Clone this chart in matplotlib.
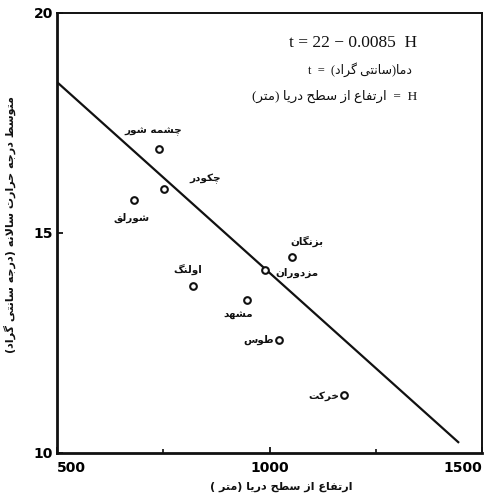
import matplotlib
matplotlib.use("Agg")
import matplotlib.pyplot as plt
from matplotlib.ticker import FixedLocator

# ---------------------------------------------------------------------------
# Data: mean annual temperature versus altitude for stations around Mashhad
# ---------------------------------------------------------------------------
stations = ["چشمه شور", "چکودر", "شورلق", "اولنگ", "مشهد",
            "مزدوران", "بزنگان", "طوس", "خرکت"]
altitude_m = [740, 751, 681, 819, 948, 989, 1054, 1022, 1176]
mean_temp_c = [16.9, 16.0, 15.75, 13.8, 13.48, 14.16, 14.45, 12.57, 11.32]

# regression line as drawn (end points)
fit_altitude_m = [500, 1446]
fit_temp_c = [18.43, 10.23]

x_ticks = [500, 1000, 1500]
x_minor_ticks = [750, 1250]
y_ticks = [10, 15, 20]

equation_text = "t = 22 \u2212 0.0085  H"
temp_def = "دما(سانتی گراد)"
height_def = "ارتفاع از سطح دریا (متر)"
x_title = "ارتفاع از سطح دریا (متر )"
y_title = "متوسط درجه حرارت سالانه (درجه سانتی گراد)"

# ---------------------------------------------------------------------------
# Minimal Arabic-script shaping (presentation forms) for matplotlib text
# forms: isolated, final, initial, medial
# ---------------------------------------------------------------------------
FORMS = {
    'ا': (0xFE8D, 0xFE8E, None, None),
    'آ': (0xFE81, 0xFE82, None, None),
    'ب': (0xFE8F, 0xFE90, 0xFE91, 0xFE92),
    'پ': (0xFB56, 0xFB57, 0xFB58, 0xFB59),
    'ت': (0xFE95, 0xFE96, 0xFE97, 0xFE98),
    'ث': (0xFE99, 0xFE9A, 0xFE9B, 0xFE9C),
    'ج': (0xFE9D, 0xFE9E, 0xFE9F, 0xFEA0),
    'چ': (0xFB7A, 0xFB7B, 0xFB7C, 0xFB7D),
    'ح': (0xFEA1, 0xFEA2, 0xFEA3, 0xFEA4),
    'خ': (0xFEA5, 0xFEA6, 0xFEA7, 0xFEA8),
    'د': (0xFEA9, 0xFEAA, None, None),
    'ذ': (0xFEAB, 0xFEAC, None, None),
    'ر': (0xFEAD, 0xFEAE, None, None),
    'ز': (0xFEAF, 0xFEB0, None, None),
    'ژ': (0xFB8A, 0xFB8B, None, None),
    'س': (0xFEB1, 0xFEB2, 0xFEB3, 0xFEB4),
    'ش': (0xFEB5, 0xFEB6, 0xFEB7, 0xFEB8),
    'ص': (0xFEB9, 0xFEBA, 0xFEBB, 0xFEBC),
    'ض': (0xFEBD, 0xFEBE, 0xFEBF, 0xFEC0),
    'ط': (0xFEC1, 0xFEC2, 0xFEC3, 0xFEC4),
    'ظ': (0xFEC5, 0xFEC6, 0xFEC7, 0xFEC8),
    'ع': (0xFEC9, 0xFECA, 0xFECB, 0xFECC),
    'غ': (0xFECD, 0xFECE, 0xFECF, 0xFED0),
    'ف': (0xFED1, 0xFED2, 0xFED3, 0xFED4),
    'ق': (0xFED5, 0xFED6, 0xFED7, 0xFED8),
    'ک': (0xFB8E, 0xFB8F, 0xFB90, 0xFB91),
    'گ': (0xFB92, 0xFB93, 0xFB94, 0xFB95),
    'ل': (0xFEDD, 0xFEDE, 0xFEDF, 0xFEE0),
    'م': (0xFEE1, 0xFEE2, 0xFEE3, 0xFEE4),
    'ن': (0xFEE5, 0xFEE6, 0xFEE7, 0xFEE8),
    'و': (0xFEED, 0xFEEE, None, None),
    'ه': (0xFEE9, 0xFEEA, 0xFEEB, 0xFEEC),
    'ی': (0xFBFC, 0xFBFD, 0xFBFE, 0xFBFF),
}
MIRROR = {'(': ')', ')': '(', '[': ']', ']': '['}


def _joins_next(c):
    return c in FORMS and FORMS[c][2] is not None


def fa(text):
    """Persian text in right-to-left visual order with joined letter forms."""
    chars = list(text)
    n = len(chars)
    res = []
    i = 0
    while i < n:
        c = chars[i]
        if c not in FORMS:
            res.append(MIRROR.get(c, c))
            i += 1
            continue
        prev = chars[i - 1] if i > 0 else None
        connect_prev = prev is not None and _joins_next(prev)
        if c == 'ل' and i + 1 < n and chars[i + 1] in ('ا', 'آ'):
            if chars[i + 1] == 'ا':
                res.append(chr(0xFEFC if connect_prev else 0xFEFB))
            else:
                res.append(chr(0xFEF6 if connect_prev else 0xFEF5))
            i += 2
            continue
        nxt = chars[i + 1] if i + 1 < n else None
        connect_next = _joins_next(c) and nxt is not None and nxt in FORMS
        iso, fin, ini, med = FORMS[c]
        if connect_prev and connect_next:
            g = med
        elif connect_prev:
            g = fin
        elif connect_next:
            g = ini
        else:
            g = iso
        res.append(chr(g))
        i += 1
    return ''.join(reversed(res))


# ---------------------------------------------------------------------------
# Figure
# ---------------------------------------------------------------------------
W, H = 484, 497
fig = plt.figure(figsize=(W / 100, H / 100), dpi=100)
fig.patch.set_facecolor("white")

ax = fig.add_axes([57 / W, 1 - 453 / H, (482 - 57) / W, (453 - 13) / H])
ax.set_xlim(500, 1500)
ax.set_ylim(10, 20)

for side in ("left", "bottom"):
    ax.spines[side].set_linewidth(2.0)
for side in ("top", "right"):
    ax.spines[side].set_linewidth(1.4)
for sp in ax.spines.values():
    sp.set_color("#111111")

ax.xaxis.set_major_locator(FixedLocator(x_ticks))
ax.xaxis.set_minor_locator(FixedLocator(x_minor_ticks))
ax.yaxis.set_major_locator(FixedLocator(y_ticks))
ax.set_xticklabels([str(v) for v in x_ticks])
ax.set_yticklabels([str(v) for v in y_ticks])
ax.tick_params(axis="both", which="both", direction="in", color="#111111",
               top=False, right=False)
ax.tick_params(axis="both", which="major", length=4, width=1.3)
ax.tick_params(axis="x", which="minor", length=3, width=1.2)
ax.tick_params(axis="x", which="major", pad=6)
ax.tick_params(axis="y", which="major", pad=3)

tick_family = ["Liberation Sans Narrow", "DejaVu Sans"]
for lbl in ax.get_xticklabels() + ax.get_yticklabels():
    lbl.set_fontfamily(tick_family)
    lbl.set_fontweight("bold")
    lbl.set_fontsize(10)
xl = ax.get_xticklabels()
xl[0].set_horizontalalignment("left")
xl[-1].set_horizontalalignment("right")

# regression line and stations
ax.plot(fit_altitude_m, fit_temp_c, color="#111111", lw=1.6,
        solid_capstyle="butt", zorder=2)
ax.plot(altitude_m, mean_temp_c, "o", ms=4.8, mfc="white", mec="#111111",
        mew=1.5, zorder=3)

# station label placement (offset in pixels, alignment)
label_offsets = [(-6, 18, "center"), (42, 10, "center"), (-2, -18, "center"),
                 (-5, 15, "center"), (-9, -15, "center"), (32, -3, "center"),
                 (14, 16, "center"), (-5, 0, "right"), (-5, -1, "right")]
label_family = ["DejaVu Sans"]
for name, x, y, (dx, dy, ha) in zip(stations, altitude_m, mean_temp_c,
                                     label_offsets):
    ax.annotate(fa(name), (x, y), xytext=(dx, dy),
                textcoords="offset pixels", ha=ha, va="center",
                fontsize=7.5, fontweight="bold", family=label_family,
                color="#111111")

# equation block
eq_family = ["Liberation Serif", "DejaVu Sans"]
fig.text(417 / W, 1 - 43 / H, equation_text, ha="right", va="center",
         fontsize=12.5, family=eq_family, color="#111111")
fig.text(412 / W, 1 - 70 / H, "t  =  " + fa(temp_def),
         ha="right", va="center", fontsize=9, family=eq_family,
         color="#111111")
fig.text(417 / W, 1 - 96 / H, fa(height_def) + "  =  H",
         ha="right", va="center", fontsize=9.5, family=eq_family,
         color="#111111")

# axis titles
fig.text(281 / W, 1 - 487 / H, fa(x_title), ha="center", va="center",
         fontsize=8, fontweight="bold", family=label_family, color="#111111")
fig.text(10 / W, 1 - 225 / H, fa(y_title), ha="center", va="center",
         rotation=90, fontsize=8, fontweight="bold", family=label_family,
         color="#111111")

fig.savefig("out.png", dpi=100, facecolor="white")
